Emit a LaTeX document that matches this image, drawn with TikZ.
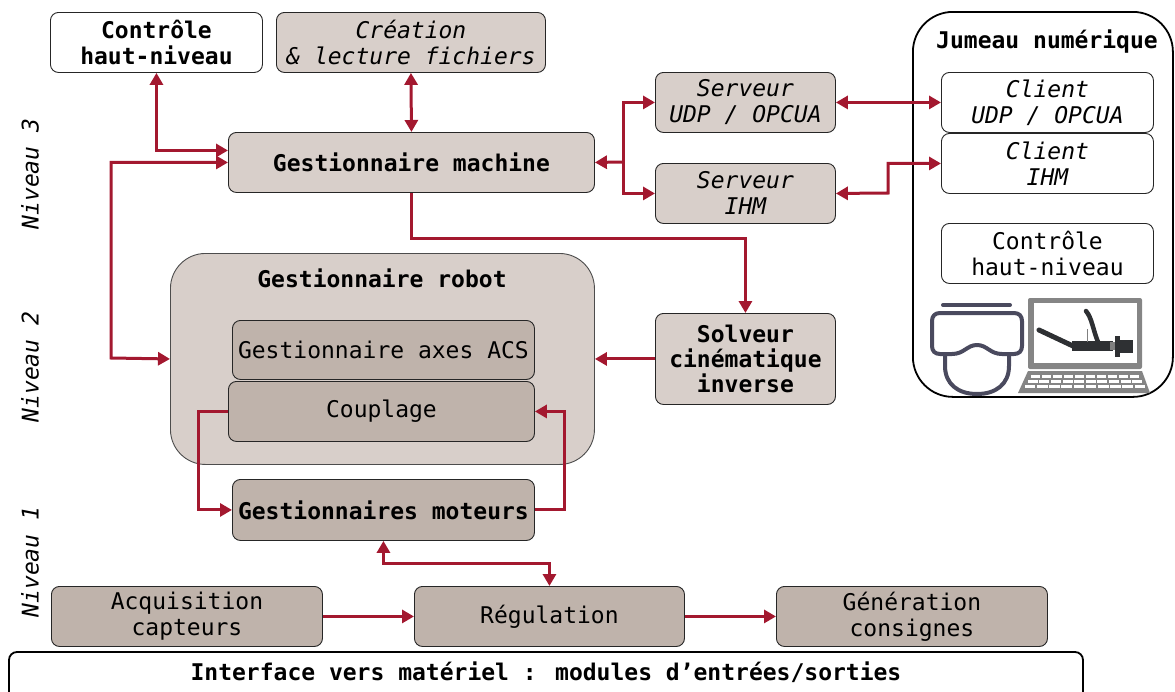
\documentclass[tikz,border=0pt]{standalone}
\usepackage{fontspec}
\setmainfont{DejaVu Sans Mono}
\usetikzlibrary{arrows.meta,calc}
\definecolor{link}{HTML}{A3182F}
\definecolor{paleg}{HTML}{D8CFCA}
\definecolor{darkg}{HTML}{BFB3AB}
\definecolor{iconink}{HTML}{4A4A5E}
\definecolor{bezel}{HTML}{858585}
\definecolor{metal}{HTML}{2E3033}
\begin{document}
\begin{tikzpicture}[x=1pt,y=-1pt,
  every node/.style={font=\fontsize{23}{26}\selectfont, align=center, text=black},
  blk/.style={draw=black!85, line width=0.9pt, rounded corners=8pt, inner sep=0pt, anchor=north west},
  wbox/.style={blk, fill=white},
  pbox/.style={blk, fill=paleg},
  dbox/.style={blk, fill=darkg},
  tip/.tip={Triangle[length=12pt,width=13pt]},
  arr/.style={draw=link, line width=3pt, -tip},
  biarr/.style={draw=link, line width=3pt, tip-tip},
  lvl/.style={rotate=90, font=\fontsize{23}{26}\selectfont\itshape}
]
\useasboundingbox (0,0) rectangle (1175,691);

% ---- level labels
\node[lvl] (n3) at (30,174) {Niveau 3};
\node[lvl] (n2) at (30,367) {Niveau 2};
\node[lvl] (n1) at (30,562) {Niveau 1};

% ---- level 3
\node[wbox, minimum width=212pt, minimum height=60pt, font=\fontsize{23}{26}\selectfont\bfseries] (ctl) at (50,12) {Contrôle\\haut-niveau};
\node[pbox, minimum width=269pt, minimum height=60pt, font=\fontsize{23}{26}\selectfont\itshape] (fic) at (276,12) {Création\\\& lecture fichiers};
\node[pbox, minimum width=366pt, minimum height=60pt, font=\fontsize{23}{26}\selectfont\bfseries] (gm) at (228,132) {Gestionnaire machine};
\node[pbox, minimum width=180pt, minimum height=60pt, font=\fontsize{23}{26}\selectfont\itshape] (srvA) at (655,72) {Serveur\\UDP / OPCUA};
\node[pbox, minimum width=180pt, minimum height=60pt, font=\fontsize{23}{26}\selectfont\itshape] (srvB) at (655,163) {Serveur\\IHM};

% ---- digital twin
\node[draw=black, line width=1.8pt, rounded corners=40pt, minimum width=260pt, minimum height=385pt, anchor=north west, inner sep=0pt] (twin) at (912,11) {};
\node[font=\fontsize{23}{26}\selectfont\bfseries] (twint) at (1047,42) {Jumeau numérique};
\node[wbox, minimum width=212pt, minimum height=60pt, font=\fontsize{23}{26}\selectfont\itshape] (cliA) at (941,72) {Client\\UDP / OPCUA};
\node[wbox, minimum width=212pt, minimum height=60pt, font=\fontsize{23}{26}\selectfont\itshape] (cliB) at (941,133) {Client\\IHM};
\node[wbox, minimum width=212pt, minimum height=60pt] (ctl2) at (941,223) {Contrôle\\haut-niveau};

% VR headset
\begin{scope}[draw=iconink, line width=4pt, line cap=round, line join=round]
  \draw (943,305) -- (1010,305);
  \draw (940,313) -- (1014,313) .. controls (1019,313) and (1022,316) .. (1022,321)
        -- (1022,346) .. controls (1022,351) and (1019,354) .. (1014,354)
        -- (1002,354) .. controls (990,354) and (987,345) .. (977,345)
        .. controls (967,345) and (964,354) .. (952,354)
        -- (940,354) .. controls (935,354) and (932,351) .. (932,346)
        -- (932,321) .. controls (932,316) and (935,313) .. (940,313) -- cycle;
  \draw (945,354) -- (945,366) .. controls (945,384) and (958,394) .. (977,394)
        .. controls (996,394) and (1009,384) .. (1009,366) -- (1009,354);
\end{scope}

% laptop
\fill[bezel, rounded corners=2pt] (1028,298) rectangle (1142,369);
\fill[white] (1034,303) rectangle (1137,363);
\fill[bezel] (1028,371) -- (1142,371) -- (1150,393) -- (1018,393) -- cycle;
\foreach \r/\xa/\xb in {375/1030/1140, 380/1027/1143, 385/1024/1146}{
  \foreach \k in {0,...,9}{
    \fill[white] ({\xa+\k*(\xb-\xa)/10+0.8},\r) rectangle ({\xa+(\k+1)*(\xb-\xa)/10-0.8},\r+3);
  }
}
% robot hand on screen
\draw[metal, line width=5pt, line cap=round] (1039,330) -- (1056,338) -- (1073,346);
\fill[metal] (1072,341) rectangle (1113,351);
\draw[metal, line width=4.5pt, line cap=round] (1086,311) .. controls (1092,318) and (1093,330) .. (1098,342);
\draw[gray, line width=0.8pt] (1087,329) -- (1087,342);
\fill[metal] (1115,336) rectangle (1120,357);
\fill[metal] (1120,340) rectangle (1133,353);
\fill[gray] (1110,342) rectangle (1115,350);

% ---- level 2
\node[draw=black!70, line width=0.9pt, fill=paleg, rounded corners=35pt, minimum width=424pt, minimum height=211pt, anchor=north west, inner sep=0pt] (robot) at (170,253) {};
\node[font=\fontsize{23}{26}\selectfont\bfseries] (robott) at (382,278) {Gestionnaire robot};
\node[dbox, minimum width=302pt, minimum height=59pt] (acs) at (232,320) {Gestionnaire axes ACS};
\node[dbox, minimum width=306pt, minimum height=60pt] (coup) at (228,381) {Couplage};
\node[pbox, minimum width=180pt, minimum height=91pt, font=\fontsize{23}{25}\selectfont\bfseries] (solv) at (655,313) {Solveur\\cinématique\\inverse};

% ---- level 1
\node[dbox, minimum width=302pt, minimum height=61pt, font=\fontsize{23}{26}\selectfont\bfseries] (mot) at (232,479) {Gestionnaires moteurs};
\node[dbox, minimum width=271pt, minimum height=60pt] (acq) at (51,586) {Acquisition\\capteurs};
\node[dbox, minimum width=270pt, minimum height=60pt] (reg) at (414,586) {Régulation};
\node[dbox, minimum width=271pt, minimum height=60pt] (gen) at (776,586) {Génération\\consignes};

% ---- hardware interface
\draw[line width=1.8pt, rounded corners=8pt] (9,705) -- (9,652) -- (1083,652) -- (1083,705);
\node[font=\fontsize{23}{26}\selectfont\bfseries] (io) at (546,672) {Interface vers matériel : modules d’entrées/sorties};

% ---- connectors
\coordinate (lx) at (111,358);
\coordinate (j) at (623,162);
\coordinate (k) at (888,193);
\draw[biarr] (ctl.south) |- ([yshift=12pt]gm.west);
\draw[biarr] (gm.west) -| (lx) -- (robot.west);
\draw[biarr] (fic.south) -- (gm.north);
\draw[arr] (gm.south) -- ++(0,46) -| (solv.north);
\draw[arr] (j) -- (gm.east);
\draw[arr] (j) |- (srvA.west);
\draw[arr] (j) |- (srvB.west);
\draw[biarr] (srvA.east) -- (cliA.west);
\draw[biarr] (srvB.east) -- (k) |- (cliB.west);
\draw[arr] (solv.west) -- (robot.east);
\draw[arr] (coup.west) -- ++(-30,0) |- (mot.west);
\draw[arr] (mot.east) -- ++(30,0) |- (coup.east);
\draw[biarr] (mot.south) -- ++(0,23) -| (reg.north);
\draw[arr] (acq.east) -- (reg.west);
\draw[arr] (reg.east) -- (gen.west);
\end{tikzpicture}
\end{document}
